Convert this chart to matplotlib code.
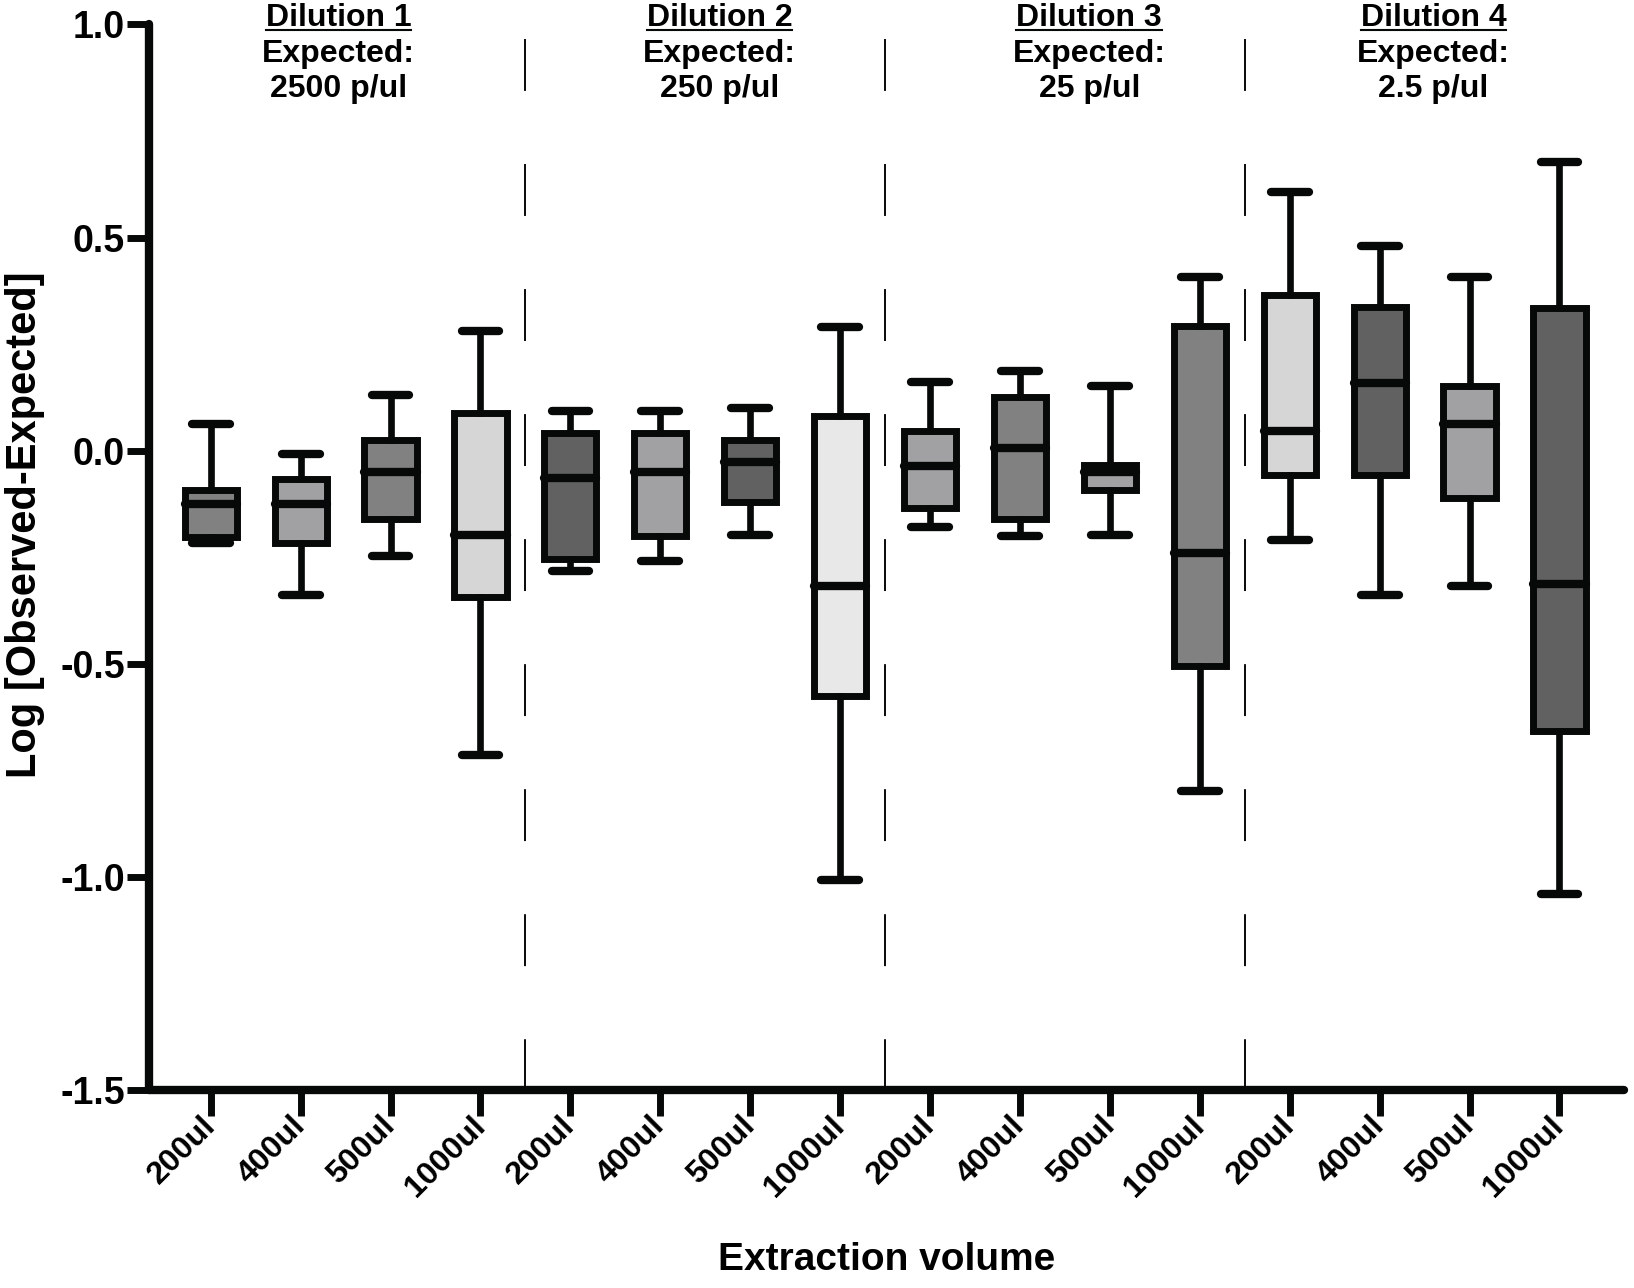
import numpy as np
import matplotlib
matplotlib.use("Agg")
import matplotlib.pyplot as plt
import matplotlib.transforms as mtransforms
from matplotlib.lines import Line2D

plt.rcParams["font.family"] = ["Liberation Sans", "DejaVu Sans"]
plt.rcParams["font.weight"] = "bold"

volumes = ["200ul", "400ul", "500ul", "1000ul"]
dilutions = ["Dilution 1", "Dilution 2", "Dilution 3", "Dilution 4"]
expected = ["2500 p/ul", "250 p/ul", "25 p/ul", "2.5 p/ul"]

whishi = [0.062, -0.007, 0.131, 0.28, 0.092, 0.092, 0.10, 0.29, 0.161, 0.186, 0.151, 0.408, 0.606, 0.48, 0.408, 0.678]
q3 = [-0.092, -0.067, 0.025, 0.087, 0.04, 0.04, 0.025, 0.082, 0.047, 0.126, -0.035, 0.292, 0.364, 0.337, 0.151, 0.334]
med = [-0.126, -0.126, -0.05, -0.198, -0.064, -0.05, -0.027, -0.318, -0.037, 0.007, -0.051, -0.24, 0.045, 0.158, 0.062, -0.313]
q1 = [-0.203, -0.218, -0.16, -0.344, -0.255, -0.2, -0.121, -0.576, -0.134, -0.161, -0.092, -0.505, -0.057, -0.057, -0.111, -0.658]
whislo = [-0.218, -0.339, -0.248, -0.715, -0.282, -0.26, -0.198, -1.007, -0.18, -0.2, -0.198, -0.8, -0.21, -0.339, -0.319, -1.04]
fills = ["#808180", "#a1a1a4", "#808180", "#d5d6d5",
         "#616161", "#a1a1a4", "#616161", "#e8e8e9",
         "#a1a1a4", "#808180", "#a1a1a4", "#808180",
         "#d5d6d5", "#616161", "#a1a1a4", "#616161"]

edge = "#070909"
labels = volumes * len(dilutions)
stats = [dict(whishi=whishi[i], q3=q3[i], med=med[i], q1=q1[i], whislo=whislo[i], fliers=[])
         for i in range(len(labels))]
pos = np.arange(len(labels))

fig = plt.figure(figsize=(16.34, 12.88), dpi=100)
ax = fig.add_axes([0.091, 0.154, 0.903, 0.827])

bp = ax.bxp(stats, positions=pos, widths=0.58, capwidths=0.42, patch_artist=True,
            showfliers=False,
            boxprops=dict(linewidth=5, edgecolor=edge),
            whiskerprops=dict(linewidth=4.8, color=edge),
            capprops=dict(linewidth=6, color=edge, solid_capstyle="round"),
            medianprops=dict(linewidth=6, color=edge, solid_capstyle="round"))
for patch, c in zip(bp["boxes"], fills):
    patch.set_facecolor(c)
    patch.set_joinstyle("miter")

# group dividers
for b in np.arange(1, len(dilutions)) * len(volumes) - 0.5:
    ax.plot([b, b], [0.965, -1.5], color=edge, lw=1.4, linestyle=(0, (26.7, 37.6)), zorder=1)

ax.set_xlim(-0.69, 15.72)
ax.set_ylim(-1.5, 1.0)
ax.set_yticks([1.0, 0.5, 0.0, -0.5, -1.0, -1.5])
ax.set_yticklabels(["1.0", "0.5", "0.0", "-0.5", "-1.0", "-1.5"])
ax.set_xticks(pos)
ax.set_xticklabels(labels, rotation=45, ha="right", va="center", rotation_mode="anchor")
off = mtransforms.ScaledTranslation(14 / 72, 0, fig.dpi_scale_trans)
for t in ax.get_xticklabels():
    t.set_transform(t.get_transform() + off)

for s in ["top", "right"]:
    ax.spines[s].set_visible(False)
for s in ["left", "bottom"]:
    ax.spines[s].set_linewidth(6)
    ax.spines[s].set_color(edge)
    ax.spines[s].set_capstyle("round")

ax.tick_params(axis="y", length=16, width=5, color=edge, labelsize=27, pad=1)
ax.tick_params(axis="x", length=19, width=5, color=edge, labelsize=23, pad=4)
for t in ax.get_xticklabels() + ax.get_yticklabels():
    t.set_fontweight("bold")

ax.set_ylabel("Log [Observed-Expected]", fontsize=30, fontweight="bold", va="center")
ax.yaxis.set_label_coords(-0.084, 0.53)
ax.set_xlabel("Extraction volume", fontsize=28, fontweight="bold", va="center")
ax.xaxis.set_label_coords(0.5, -0.16)

# group headers
title_x = [1.42, 5.66, 9.77, 13.6]
trans = mtransforms.blended_transform_factory(ax.transData, fig.transFigure)
heads = []
for x, d, e in zip(title_x, dilutions, expected):
    h = fig.text(x, 0.986, d, transform=trans, ha="center", va="center", fontsize=23, fontweight="bold")
    fig.text(x, 0.958, "Expected:", transform=trans, ha="center", va="center", fontsize=23, fontweight="bold")
    fig.text(x, 0.931, e, transform=trans, ha="center", va="center", fontsize=23, fontweight="bold")
    heads.append(h)

fig.canvas.draw()
for h in heads:
    bb = h.get_window_extent()
    y = bb.y0 + 3
    fig.add_artist(Line2D([bb.x0, bb.x1], [y, y], transform=None, color=edge, lw=1.5))

fig.savefig("out.png", dpi=100)
